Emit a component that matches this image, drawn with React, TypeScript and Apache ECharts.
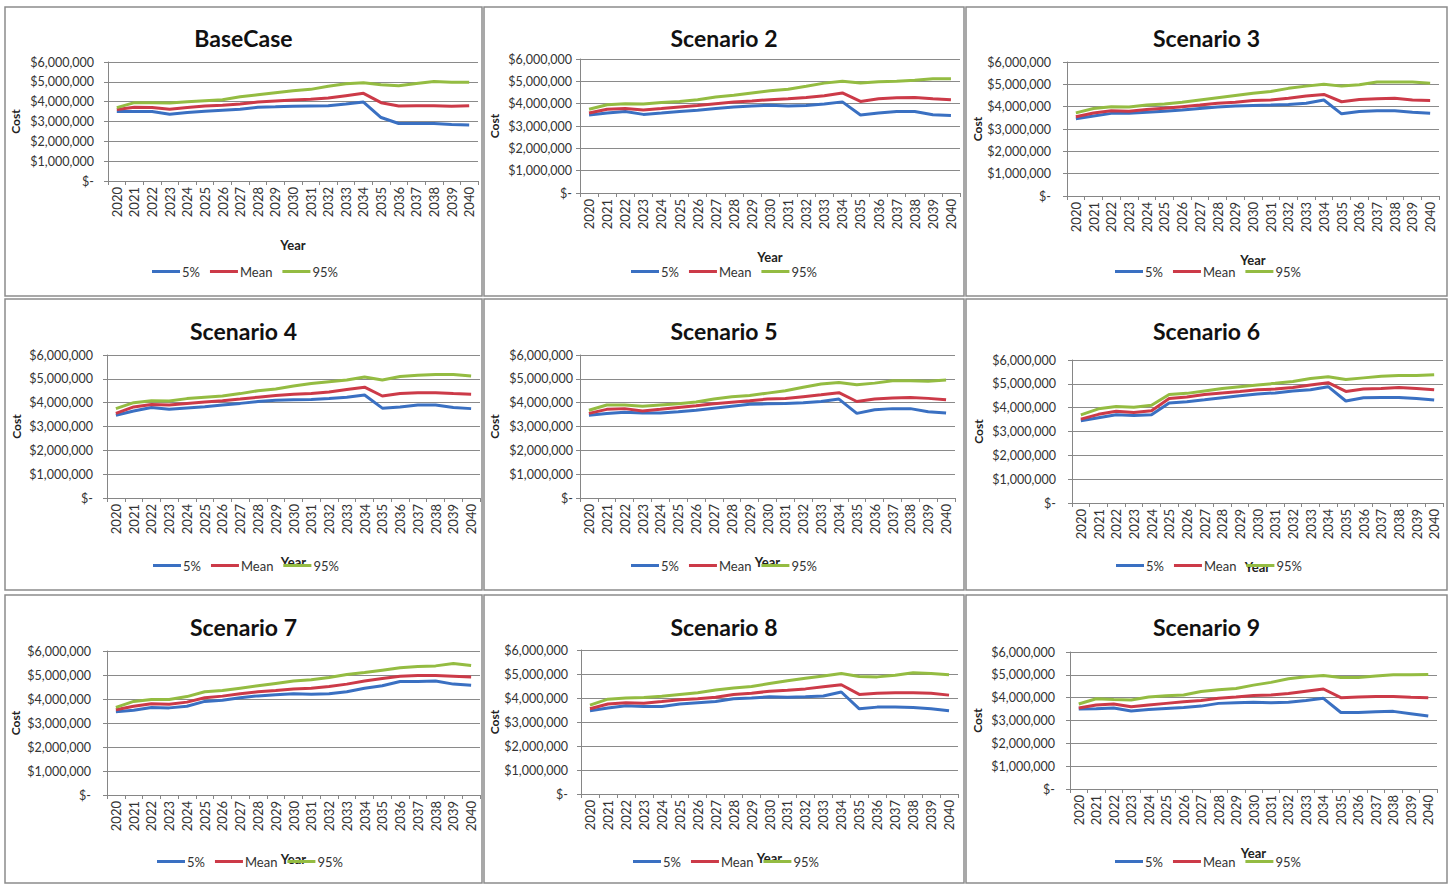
import React, { useEffect, useRef } from 'react';
import * as echarts from 'echarts';

const years = ['2020','2021','2022','2023','2024','2025','2026','2027','2028','2029','2030','2031','2032','2033','2034','2035','2036','2037','2038','2039','2040'];
const scenarioNames = ['BaseCase','Scenario 2','Scenario 3','Scenario 4','Scenario 5','Scenario 6','Scenario 7','Scenario 8','Scenario 9'];
const seriesNames = ['5%','Mean','95%'];
const yTicks = [0, 1, 2, 3, 4, 5, 6]; // $ millions

// values in $ millions
const base5 = [3.51,3.50,3.50,3.37,3.45,3.52,3.57,3.62,3.72,3.74,3.77,3.78,3.79,3.88,3.98,3.20,2.90,2.90,2.90,2.85,2.82];
const baseMean = [3.60,3.72,3.70,3.62,3.70,3.78,3.82,3.88,3.98,4.03,4.08,4.12,4.18,4.30,4.42,3.95,3.78,3.80,3.80,3.77,3.80];
const base95 = [3.70,3.95,3.95,3.93,4.00,4.05,4.10,4.25,4.35,4.45,4.55,4.62,4.78,4.90,4.95,4.85,4.80,4.92,5.02,4.98,4.98];

const s2_5 = [3.49,3.58,3.65,3.52,3.58,3.65,3.70,3.78,3.85,3.90,3.93,3.90,3.92,3.98,4.08,3.49,3.58,3.65,3.65,3.50,3.47];
const s2Mean = [3.58,3.75,3.78,3.72,3.78,3.85,3.92,4.00,4.07,4.12,4.18,4.22,4.28,4.35,4.48,4.10,4.22,4.27,4.28,4.22,4.18];
const s2_95 = [3.75,3.95,4.00,3.98,4.05,4.10,4.18,4.30,4.38,4.48,4.58,4.65,4.78,4.92,5.00,4.93,4.98,5.00,5.05,5.12,5.12];

const s3_5 = [3.46,3.58,3.70,3.70,3.75,3.80,3.85,3.92,3.98,4.03,4.05,4.07,4.10,4.15,4.30,3.68,3.78,3.82,3.82,3.75,3.70];
const s3Mean = [3.55,3.72,3.82,3.80,3.87,3.93,4.00,4.07,4.15,4.20,4.28,4.30,4.38,4.48,4.55,4.22,4.32,4.35,4.38,4.30,4.28];
const s3_95 = [3.72,3.92,4.00,3.98,4.07,4.12,4.20,4.30,4.40,4.50,4.60,4.68,4.82,4.92,5.00,4.92,4.98,5.10,5.10,5.10,5.05];

const s4_5 = [3.47,3.65,3.80,3.72,3.78,3.83,3.90,3.97,4.05,4.10,4.12,4.13,4.17,4.23,4.32,3.77,3.82,3.90,3.90,3.80,3.75];
const s4Mean = [3.55,3.82,3.92,3.90,3.97,4.03,4.08,4.15,4.23,4.30,4.35,4.38,4.45,4.55,4.65,4.28,4.38,4.42,4.42,4.38,4.35];
const s4_95 = [3.75,4.00,4.08,4.07,4.17,4.23,4.28,4.38,4.50,4.57,4.70,4.80,4.88,4.95,5.08,4.95,5.10,5.15,5.18,5.18,5.12];

const s5_5 = [3.47,3.55,3.60,3.57,3.57,3.62,3.68,3.77,3.85,3.93,3.95,3.97,4.00,4.05,4.15,3.55,3.70,3.75,3.75,3.62,3.57];
const s5Mean = [3.55,3.72,3.75,3.65,3.72,3.80,3.87,3.95,4.02,4.08,4.15,4.17,4.25,4.33,4.42,4.05,4.15,4.20,4.22,4.18,4.12];
const s5_95 = [3.68,3.90,3.90,3.85,3.90,3.95,4.03,4.15,4.25,4.30,4.40,4.50,4.65,4.78,4.85,4.75,4.82,4.92,4.92,4.90,4.95];

const s6_5 = [3.45,3.58,3.70,3.67,3.70,4.20,4.25,4.33,4.42,4.50,4.57,4.62,4.70,4.75,4.88,4.28,4.42,4.43,4.43,4.38,4.32];
const s6Mean = [3.52,3.72,3.85,3.80,3.87,4.38,4.45,4.55,4.62,4.68,4.75,4.78,4.85,4.95,5.05,4.68,4.78,4.80,4.85,4.80,4.75];
const s6_95 = [3.70,3.95,4.05,4.02,4.10,4.55,4.60,4.70,4.80,4.88,4.95,5.02,5.10,5.22,5.30,5.18,5.25,5.32,5.35,5.35,5.38];

const s7_5 = [3.47,3.53,3.65,3.63,3.70,3.90,3.95,4.05,4.13,4.18,4.22,4.20,4.22,4.30,4.45,4.55,4.73,4.73,4.75,4.62,4.57];
const s7Mean = [3.55,3.70,3.80,3.78,3.87,4.05,4.12,4.22,4.30,4.35,4.42,4.45,4.52,4.62,4.75,4.85,4.95,4.98,4.98,4.95,4.92];
const s7_95 = [3.65,3.90,3.98,3.98,4.10,4.30,4.35,4.45,4.55,4.65,4.75,4.80,4.90,5.02,5.10,5.20,5.30,5.35,5.38,5.48,5.40];

const s8_5 = [3.47,3.58,3.68,3.65,3.65,3.75,3.80,3.85,3.97,4.00,4.05,4.03,4.05,4.08,4.25,3.55,3.62,3.62,3.60,3.55,3.47];
const s8Mean = [3.55,3.75,3.80,3.78,3.85,3.93,3.97,4.03,4.15,4.20,4.28,4.32,4.38,4.47,4.55,4.15,4.20,4.22,4.22,4.20,4.12];
const s8_95 = [3.70,3.95,4.00,4.02,4.07,4.15,4.22,4.33,4.42,4.48,4.60,4.72,4.82,4.92,5.02,4.90,4.88,4.95,5.05,5.02,4.97];

const s9_5 = [3.50,3.52,3.55,3.42,3.48,3.53,3.57,3.63,3.75,3.78,3.80,3.78,3.80,3.88,3.97,3.35,3.35,3.38,3.40,3.30,3.20];
const s9Mean = [3.55,3.68,3.72,3.60,3.68,3.75,3.82,3.88,3.97,4.03,4.10,4.12,4.18,4.28,4.38,4.00,4.03,4.05,4.05,4.02,4.00];
const s9_95 = [3.72,3.95,3.92,3.90,4.03,4.08,4.12,4.27,4.35,4.40,4.55,4.67,4.83,4.92,4.97,4.88,4.88,4.95,5.00,5.00,5.02];

const scenarioData = [
  [base5, baseMean, base95],
  [s2_5, s2Mean, s2_95],
  [s3_5, s3Mean, s3_95],
  [s4_5, s4Mean, s4_95],
  [s5_5, s5Mean, s5_95],
  [s6_5, s6Mean, s6_95],
  [s7_5, s7Mean, s7_95],
  [s8_5, s8Mean, s8_95],
  [s9_5, s9Mean, s9_95],
];

const colors = ['#3A70C2', '#CC3A48', '#94BC42'];

// layout: grid (gl, gt, gw, gh), y label margin (lm), y name gap (ng), panel box (bx, by, bw, bh), title top (ty), legend (lx, ly)
const panels = [
  { gl: 108, gt: 62, gw: 370, gh: 119, lm: 14, ng: 87, bx: 5, by: 7, bw: 477, bh: 289, ty: 26, lx: 152, ly: 265 },
  { gl: 580, gt: 59, gw: 380, gh: 134, lm: 8, ng: 80, bx: 484, by: 7, bw: 480, bh: 289, ty: 26, lx: 631, ly: 265 },
  { gl: 1067, gt: 62, gw: 372, gh: 134, lm: 16, ng: 84, bx: 966, by: 7, bw: 481, bh: 289, ty: 26, lx: 1115, ly: 265 },
  { gl: 107, gt: 355, gw: 373, gh: 143, lm: 14, ng: 85, bx: 5, by: 299, bw: 477, bh: 291, ty: 319, lx: 153, ly: 559 },
  { gl: 580, gt: 355, gw: 375, gh: 143, lm: 7, ng: 80, bx: 484, by: 299, bw: 480, bh: 291, ty: 319, lx: 631, ly: 559 },
  { gl: 1072, gt: 360, gw: 371, gh: 143, lm: 16, ng: 88, bx: 966, by: 299, bw: 481, bh: 291, ty: 319, lx: 1116, ly: 559 },
  { gl: 107, gt: 651, gw: 373, gh: 144, lm: 16, ng: 86, bx: 5, by: 595, bw: 477, bh: 288, ty: 615, lx: 157, ly: 855 },
  { gl: 581, gt: 650, gw: 377, gh: 144, lm: 13, ng: 81, bx: 484, by: 595, bw: 480, bh: 288, ty: 615, lx: 633, ly: 855 },
  { gl: 1070, gt: 652, gw: 367, gh: 137, lm: 15, ng: 87, bx: 966, by: 595, bw: 481, bh: 288, ty: 615, lx: 1115, ly: 855 },
];

const FONT = 'Lato, "Open Sans", sans-serif';

function fmtY(v: number) {
  if (v === 0) return '$-';
  return '$' + Math.round(v * 1000000).toLocaleString('en-US');
}

export default function App() {
  const ref = useRef<HTMLDivElement>(null);
  useEffect(() => {
    if (!ref.current) return;
    const chart = echarts.init(ref.current, undefined, { renderer: 'svg' });
    const series: any[] = [];
    scenarioData.forEach((sets, i) => {
      sets.forEach((vals, k) => {
        series.push({
          type: 'line',
          name: seriesNames[k],
          xAxisIndex: i,
          yAxisIndex: i,
          data: vals,
          symbol: 'none',
          smooth: false,
          lineStyle: { width: 3, color: colors[k] },
          itemStyle: { color: colors[k] },
          z: 3 + k,
        });
      });
    });
    const option: any = {
      animation: false,
      backgroundColor: '#ffffff',
      textStyle: { fontFamily: FONT },
      title: panels.map((p, i) => ({
        text: scenarioNames[i],
        left: p.bx + p.bw / 2,
        top: p.ty,
        textAlign: 'center',
        padding: 0,
        textStyle: { fontSize: 23, fontWeight: 'bold', color: '#111', fontFamily: FONT },
      })),
      legend: panels.map((p) => ({
        data: seriesNames,
        left: p.lx,
        top: p.ly,
        icon: 'rect',
        itemWidth: 28,
        itemHeight: 3,
        itemGap: 10,
        padding: 0,
        textStyle: { fontSize: 13, color: '#333', fontFamily: FONT, padding: [0, 0, 0, -3] },
      })),
      grid: panels.map((p) => ({ left: p.gl, top: p.gt, width: p.gw, height: p.gh, containLabel: false })),
      xAxis: panels.map((p, i) => ({
        type: 'category',
        gridIndex: i,
        data: years,
        boundaryGap: true,
        name: 'Year',
        nameLocation: 'middle',
        nameGap: 57,
        nameTextStyle: { fontWeight: 'bold', fontSize: 13, color: '#222', fontFamily: FONT },
        axisLine: { show: true, lineStyle: { color: '#868686', width: 1 } },
        axisTick: { show: true, length: 4, lineStyle: { color: '#868686' } },
        axisLabel: { rotate: 90, fontSize: 13, color: '#333', margin: 6, interval: 0, fontFamily: FONT },
        splitLine: { show: false },
      })),
      yAxis: panels.map((p, i) => ({
        type: 'value',
        gridIndex: i,
        min: yTicks[0],
        max: yTicks[yTicks.length - 1],
        interval: 1,
        name: 'Cost',
        nameLocation: 'middle',
        nameGap: p.ng,
        nameTextStyle: { fontWeight: 'bold', fontSize: 12, color: '#222', fontFamily: FONT },
        axisLine: { show: true, lineStyle: { color: '#868686', width: 1 } },
        axisTick: { show: true, length: 4, lineStyle: { color: '#868686' } },
        axisLabel: { fontSize: 12.5, color: '#333', margin: p.lm, formatter: fmtY, fontFamily: FONT },
        splitLine: { show: true, lineStyle: { color: '#8a8a8a', width: 1 } },
      })),
      series,
      graphic: panels.map((p) => ({
        type: 'rect',
        shape: { x: p.bx, y: p.by, width: p.bw, height: p.bh },
        style: { fill: 'none', stroke: '#8c8c8c', lineWidth: 1.5 },
        silent: true,
        z: -1,
      })),
    };
    chart.setOption(option);
    return () => chart.dispose();
  }, []);
  return (
    <div
      ref={ref}
      style={{ position: 'absolute', left: 0, top: 0, width: 1450, height: 884, background: '#fff' }}
    />
  );
}
